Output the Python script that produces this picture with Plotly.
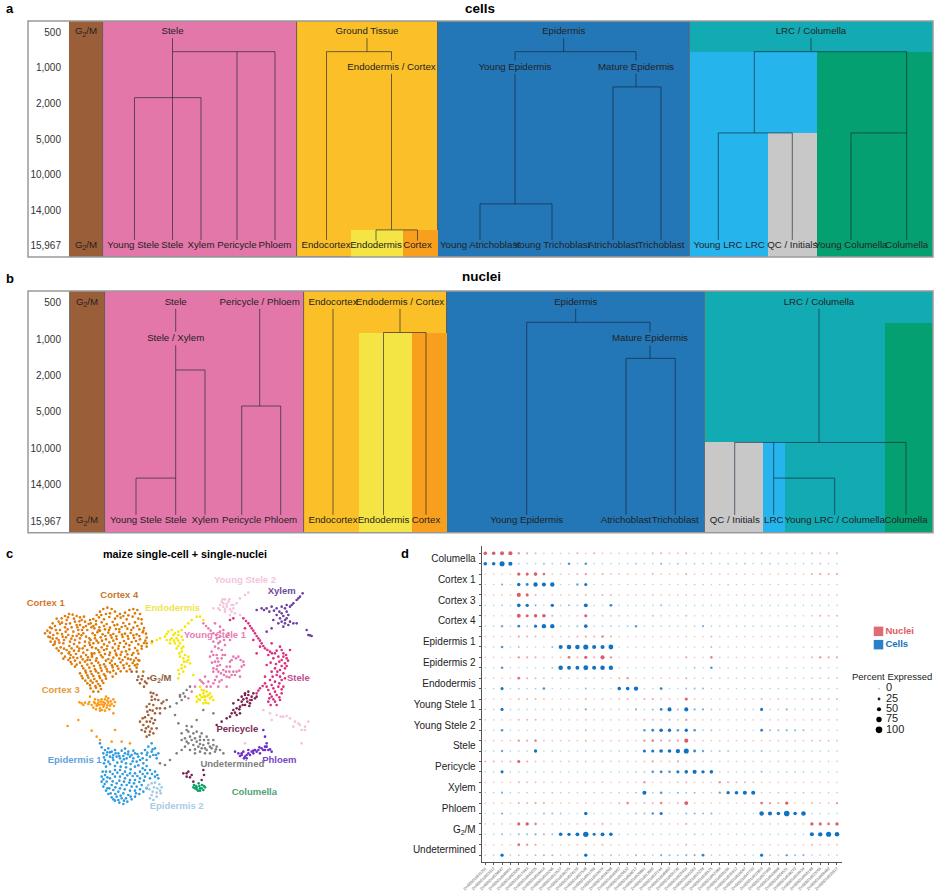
import plotly.graph_objects as go

FIG_W, FIG_H = 937, 893

# ---- panels a / b: resolution levels and clusters
resolution_labels = ["500", "1,000", "2,000", "5,000", "10,000", "14,000", "15,967"]
level_ids = [0, 1, 2, 3, 4, 5, 6]

BROWN, PINK, GOLD, BLUE, TEAL = "#9A5F38", "#E377A9", "#FBC027", "#2477B7", "#13ABB3"
YELLOW, ORANGE, SKY, GREEN, GREY = "#F5E544", "#F99F1E", "#25B5EC", "#05A071", "#C8C8C8"

# columns: left, right, top level, bottom level
cells_fill_x0 = [69, 103, 297, 438, 690, 690, 817, 768, 351, 403]
cells_fill_x1 = [103, 297, 438, 690, 933, 817, 933, 817, 403, 438]
cells_fill_y0 = [-0.31, -0.31, -0.31, -0.31, -0.31, 0.55, 0.55, 2.83, 5.55, 5.55]
cells_fill_y1 = [6.31, 6.31, 6.31, 6.31, 0.55, 6.31, 6.31, 6.31, 6.31, 6.31]
cells_fill_col = [BROWN, PINK, GOLD, BLUE, TEAL, SKY, GREEN, GREY, YELLOW, ORANGE]

nuclei_fill_x0 = [70, 105, 303.5, 447, 705, 885, 705, 763, 358.5, 411.5]
nuclei_fill_x1 = [105, 303.5, 447, 705, 933, 933, 763, 785, 411.5, 447]
nuclei_fill_y0 = [-0.32, -0.32, -0.32, -0.32, -0.32, 0.55, 3.84, 3.84, 0.82, 0.82]
nuclei_fill_y1 = [6.32] * 10
nuclei_fill_col = [BROWN, PINK, GOLD, BLUE, TEAL, GREEN, GREY, SKY, YELLOW, ORANGE]

# dendrogram branches: x0, level0, x1, level1
cells_branches = [
    (172.5, .17, 172.5, 5.83), (172.5, .55, 275, .55), (237, .55, 237, 5.83), (275, .55, 275, 5.83),
    (134.5, 1.84, 201, 1.84), (134.5, 1.84, 134.5, 5.83), (201, 1.84, 201, 5.83),
    (367, .17, 367, .55), (326.5, .55, 391.5, .55), (326.5, .55, 326.5, 5.83), (391.5, .55, 391.5, .8),
    (391.5, 1.17, 391.5, 5.55), (376, 5.55, 417.5, 5.55), (376, 5.55, 376, 5.85), (417.5, 5.55, 417.5, 5.85),
    (563.7, .17, 563.7, .55), (515, .55, 636, .55), (515, .55, 515, .8), (515, 1.17, 515, 4.82),
    (480, 4.82, 552, 4.82), (480, 4.82, 480, 5.83), (552, 4.82, 552, 5.83), (636, .55, 636, .8),
    (636, 1.17, 636, 1.54), (613, 1.54, 661, 1.54), (613, 1.54, 613, 5.83), (661, 1.54, 661, 5.83),
    (811, .17, 811, .55), (754.3, .55, 906.7, .55), (754.3, .55, 754.3, 2.83), (718.3, 2.83, 792.3, 2.83),
    (718.3, 2.83, 718.3, 5.83), (792.3, 2.83, 792.3, 5.83), (906.7, .55, 906.7, 5.83),
    (851, 2.83, 906.7, 2.83), (851, 2.83, 851, 5.83),
]
nuclei_branches = [
    (175.7, .17, 175.7, .8), (175.7, 1.17, 175.7, 5.83), (175.7, 1.85, 205, 1.85), (205, 1.85, 205, 5.83),
    (136, 4.82, 175.7, 4.82), (136, 4.82, 136, 5.83),
    (259.7, .17, 259.7, 2.84), (241.7, 2.84, 280.7, 2.84), (241.7, 2.84, 241.7, 5.83), (280.7, 2.84, 280.7, 5.83),
    (333, .17, 333, 5.83), (400, .17, 400, .82), (383.5, .82, 426, .82), (383.5, .82, 383.5, 5.83), (426, .82, 426, 5.83),
    (575.7, .17, 575.7, .54), (526.7, .54, 650, .54), (526.7, .54, 526.7, 5.83), (650, .54, 650, .8),
    (650, 1.17, 650, 1.53), (626, 1.53, 675.3, 1.53), (626, 1.53, 626, 5.83), (675.3, 1.53, 675.3, 5.83),
    (819, .17, 819, 3.84), (734.7, 3.84, 906, 3.84), (734.7, 3.84, 734.7, 5.83), (906, 3.84, 906, 5.83),
    (773.7, 3.84, 773.7, 5.83), (773.7, 4.82, 834.7, 4.82), (834.7, 4.82, 834.7, 5.83),
]

G2M = "G<sub>2</sub>/M"
cells_names = [G2M, "Stele", "Ground Tissue", "Endodermis / Cortex", "Epidermis", "Young Epidermis", "Mature Epidermis",
               "LRC / Columella", G2M, "Young Stele", "Stele", "Xylem", "Pericycle", "Phloem", "Endocortex", "Endodermis",
               "Cortex", "Young Atrichoblast", "Young Trichoblast", "Atrichoblast", "Trichoblast", "Young LRC", "LRC",
               "QC / Initials", "Young Columella", "Columella"]
cells_name_x = [86, 172.5, 367, 391.5, 563.7, 515, 636, 811, 86, 133.3, 172.3, 201, 237, 275, 326, 376, 417.5,
                480, 552, 613, 661, 718, 755, 792.3, 851, 906.7]
cells_name_lvl = [0, 0, 0, 1, 0, 1, 1, 0] + [6] * 18

nuclei_names = [G2M, "Stele", "Stele / Xylem", "Pericycle / Phloem", "Endocortex", "Endodermis / Cortex", "Epidermis",
                "Mature Epidermis", "LRC / Columella", G2M, "Young Stele", "Stele", "Xylem", "Pericycle", "Phloem",
                "Endocortex", "Endodermis", "Cortex", "Young Epidermis", "Atrichoblast", "Trichoblast", "QC / Initials",
                "LRC", "Young LRC / Columella", "Columella"]
nuclei_name_x = [87, 175.7, 175.7, 259.7, 333, 400, 575.7, 650, 819, 87, 136, 175.7, 205, 241.7, 280.7, 333, 383.5,
                 426, 526.7, 626, 675.3, 734.7, 773.7, 834.7, 906]
nuclei_name_lvl = [0, 0, 1, 0, 0, 0, 0, 1, 0] + [6] * 16

# ---- panel c: UMAP points
umap_names = ["Cortex 1", "Cortex 4", "Cortex 3", "Epidermis 1", "Epidermis 2", "G2/M", "Undetermined", "Endodermis",
              "Young Stele 1", "Young Stele 2", "Stele", "Pericycle", "Xylem", "Phloem", "Columella"]
umap_colors = ["#E07B10", "#DC7A06", "#FB9A16", "#2E9BE0", "#9CC9E6", "#A0623A", "#808080", "#F6E600",
               "#E978B2", "#F4C2DC", "#DB2E7E", "#7A2350", "#6E3FA0", "#6E2FC8", "#0BA36B"]

cortex1_pts = [(185,235),(195,228),(207,222),(218,224),(230,228),(240,232),(176,245),(165,258),(155,265),(150,278),
    (145,290),(152,305),(160,315),(170,325),(185,340),(195,350),(205,360),(215,372),(225,380),(180,270),(195,262),
    (210,250),(225,245),(240,255),(255,245),(188,290),(205,285),(220,275),(235,270),(250,280),(170,295),(190,310),
    (210,305),(225,300),(240,295),(255,305),(200,330),(215,325),(232,320),(248,325),(262,330),(212,345),(228,342),
    (243,350),(258,345),(225,362),(240,368),(255,365),(270,360),(160,285),(172,280),(200,240),(215,262),(230,255),
    (245,240),(180,252),(197,275),(165,305),(182,322),(222,312),(238,308),(250,262),(262,270),(268,295),(270,315),
    (275,340),(192,300),(208,318),(178,308),(220,352),(236,333),(250,338),(198,252),(236,282),(158,296),(266,252),
    (150,262),(142,272),(158,250),(170,236),(186,248),(204,232),(222,236),(238,244),(252,230),(168,270),(186,282),
    (203,268),(218,288),(232,262),(246,270),(258,258),(274,262),(176,300),(198,292),(214,296),(230,288),(244,286),
    (258,290),(150,292),(164,312),(176,332),(192,326),(206,340),(222,332),(238,326),(254,318),(268,308),(190,356),
    (210,354),(232,354),(248,358),(264,352),(212,366),(230,374),(246,378),(262,374),(276,350),(135,280),(208,336)]
cortex4_pts = [(290,225),(300,215),(310,207),(322,203),(335,207),(345,215),(360,222),(375,218),(388,210),(400,207),
    (412,210),(420,222),(280,237),(297,232),(312,238),(328,231),(345,236),(362,233),(380,238),(398,230),(415,236),
    (272,250),(288,253),(305,247),(320,252),(338,246),(352,254),(370,249),(388,252),(405,247),(425,251),(283,265),
    (298,262),(315,268),(330,263),(348,267),(365,261),(382,266),(400,263),(418,268),(432,264),(278,280),(292,277),
    (308,283),(325,278),(340,282),(358,276),(375,281),(392,279),(410,283),(428,277),(438,281),(285,295),(302,292),
    (318,298),(335,293),(350,297),(368,291),(385,296),(402,294),(420,298),(440,293),(280,310),(295,308),(312,313),
    (328,307),(345,312),(360,309),(378,311),(395,306),(415,313),(432,309),(288,325),(305,322),(320,327),(338,323),
    (355,326),(372,321),(388,328),(405,324),(425,326),(283,340),(298,337),(315,342),(330,338),(348,341),(365,336),
    (382,343),(400,339),(415,341),(290,355),(308,352),(325,357),(340,353),(358,356),(375,351),(392,358),(408,354),
    (275,370),(295,368),(312,373),(330,369),(345,372),(362,367),(380,371),(398,369),(412,373),(250,385),(268,383),
    (285,388),(302,384),(320,387),(338,382),(355,386),(372,384),(390,388),(410,383),(240,400),(258,398),(275,402),
    (295,399),(312,403),(330,397),(348,401),(248,415),(265,413),(283,417),(300,414),(318,416),(262,430),(278,428),
    (295,432),(310,429),(272,445),(288,443),(303,447),(456,305),(440,320),(415,360),(430,395),
    (270,240),(288,243),(304,225),(318,222),(330,220),(352,228),(370,228),(385,226),(405,220),(425,238),(280,258),
    (296,271),(312,258),(327,270),(343,256),(358,268),(376,258),(394,270),(412,258),(430,272),(285,286),(300,272),
    (316,288),(332,286),(349,289),(366,284),(383,288),(400,286),(418,288),(436,302),(272,300),(290,302),(306,302),
    (322,318),(340,302),(356,318),(372,303),(388,316),(408,303),(425,318),(440,310),(276,322),(295,330),(312,330),
    (328,345),(345,332),(362,344),(378,334),(396,345),(412,332),(276,345),(288,362),(303,346),(318,362),(335,362),
    (350,346),(368,360),(384,356),(402,362),(418,362),(262,360),(282,378),(300,376),(316,380),(336,376),(352,378),
    (370,376),(388,378),(405,376),(256,392),(272,394),(288,394),(305,392),(322,394),(340,392),(362,394),(380,394),
    (245,408),(262,406),(280,408),(298,408),(316,408),(338,410),(256,422),(272,422),(290,424),(306,422),(270,436),
    (286,438),(300,438),(280,455),(295,455)]
cortex3_pts = [(238,487),(245,490),(255,488),(265,492),(275,495),(285,490),(295,488),(305,493),(315,490),(325,488),
    (335,492),(345,486),(280,503),(290,498),(300,505),(310,500),(320,503),(330,497),(295,480),(305,478),(315,478),
    (325,475),(285,478),(270,470),(300,512),(315,512),(328,508),(340,478),(203,558),(235,540),(275,572),(290,590),
    (300,600),(345,570),(335,605),(365,605),(390,610),(340,520),(298,495),(310,486),(322,482),(288,508),
    (250,495),(268,486),(282,486),(292,493),(302,485),(312,495),(322,496),(332,484),(342,498),(306,510),(318,470)]
epidermis1_pts = [(305,622),(315,630),(325,625),(335,635),(345,630),(355,640),(365,632),(375,640),(385,635),(395,645),
    (405,640),(415,650),(425,640),(435,630),(445,620),(455,610),(465,625),(475,640),(470,655),(460,645),(450,650),
    (440,660),(430,670),(420,660),(410,665),(400,655),(390,650),(380,655),(370,648),(360,655),(350,650),(340,645),
    (330,650),(320,645),(310,640),(315,660),(325,665),(340,660),(352,668),(365,665),(378,670),(392,672),(405,680),
    (300,610),(318,680),(308,695),(305,710),(305,725),(310,740),(318,752),(325,762),(335,772),(345,782),(358,788),
    (370,792),(382,785),(395,778),(405,770),(418,762),(430,755),(440,745),(330,695),(345,690),(360,690),(375,695),
    (390,700),(405,700),(420,695),(435,690),(450,690),(465,695),(475,715),(465,710),(450,715),(435,710),(420,715),
    (405,720),(390,720),(375,715),(360,710),(345,710),(330,715),(320,725),(335,735),(350,730),(365,735),(380,735),
    (395,740),(410,740),(425,735),(340,750),(355,755),(370,760),(385,765),(365,775),(350,770),(315,705),(322,745),
    (330,637),(375,626),(400,632),(440,645),(455,635),
    (312,652),(322,637),(338,653),(347,640),(358,648),(372,658),(384,643),(398,664),(412,642),(428,655),(442,638),
    (458,628),(468,645),(440,678),(428,685),(415,676),(392,688),(378,682),(362,680),(345,678),(330,672),(312,670),
    (318,695),(322,712),(338,702),(352,698),(368,702),(382,706),(398,708),(412,708),(428,702),(442,700),(456,702),
    (472,705),(310,718),(338,724),(358,722),(372,725),(388,728),(402,730),(418,726),(432,722),(314,732),(328,745),
    (346,742),(360,745),(374,748),(390,752),(405,752),(420,748),(332,760),(346,762),(362,767),(378,775),(392,770),
    (408,760),(340,778),(355,780),(372,782)]
epidermis2_pts = [(445,735),(455,730),(465,728),(478,733),(485,742),(480,752),(470,758),(458,755),(448,748),(440,742),
    (462,742),(472,745),(455,765),(470,770),(450,775),(482,760),(460,780)]
g2m_pts = [(415,410),(425,418),(435,425),(420,430),(432,440),(445,415),(460,460),(470,465),(455,470),(440,500),(450,510),
    (460,495),(470,505),(445,525),(455,535),(440,545),(430,555),(445,560),(460,550),(470,565),(450,575),(435,575),
    (425,570),(460,580),(440,590),(420,545),(465,520),(455,480),(475,480),(485,490),(495,505),(500,480),(480,520),
    (395,395),(410,395),(428,408),(440,430),(412,420),(452,458),(465,478),(448,492),(458,512),(442,515),(435,532),
    (450,545),(465,540),(438,565),(455,566),(448,585),(428,535),(480,505)]
undetermined_pts = [(545,580),(560,570),(575,560),(590,575),(605,580),(620,590),(600,600),(585,595),(570,590),(555,595),
    (565,610),(580,615),(595,620),(610,615),(625,610),(640,600),(650,620),(660,630),(645,635),(630,640),(615,640),
    (600,635),(585,640),(570,630),(555,620),(670,640),(540,465),(550,460),(560,450),(545,480),(530,490),(570,440),
    (490,485),(510,500),(525,525),(535,550),(510,660),(495,675),(530,640),(545,630),(480,670),(640,520),(610,510),
    (590,540),(635,625),(620,630),(605,625),(565,575),(580,580),(600,590),(612,600),(590,605),(575,600),(560,605),
    (600,612),(615,625),(630,620),(640,615),(648,628),(625,600),(585,628),(560,558),(545,600),(555,470),(540,470)]
endodermis_pts = [(495,290),(505,275),(515,270),(525,280),(535,275),(545,270),(555,260),(565,250),(575,240),(590,230),
    (600,230),(610,240),(500,300),(515,295),(530,295),(545,290),(525,310),(540,310),(550,320),(530,325),(545,335),
    (555,345),(565,350),(550,355),(540,350),(560,365),(570,370),(555,380),(545,375),(535,390),(550,395),(535,415),
    (580,405),(600,440),(590,470),(600,465),(610,460),(620,455),(630,460),(600,480),(615,480),(630,475),(610,490),
    (590,485),(625,490),(640,480),(510,310),(470,300),(455,310),(480,295),(612,470),(622,468),(500,282),(520,285),
    (535,285),(510,300),(522,302),(535,302),(548,300),(535,318),(545,325),(538,340),(552,365),(565,360),(545,385),
    (538,402),(605,450),(615,470),(625,465),(605,472),(595,478),(618,488),(635,470),(612,452)]
young_stele1_pts = [(610,250),(625,265),(640,280),(650,295),(660,305),(645,320),(635,335),(650,345),(665,330),(675,315),
    (630,350),(645,365),(660,375),(640,385),(655,395),(670,390),(680,380),(690,365),(700,350),(715,350),(730,365),
    (725,380),(710,395),(695,405),(680,410),(665,420),(650,410),(640,430),(625,425),(615,410),(600,420),(720,410),
    (690,380),(700,395),(660,290),(670,270),(680,290),(690,300),(660,260),(645,250),(675,345),(655,440),(680,440),
    (610,430),(585,440),(565,475),(575,455),(655,325),(640,305),(665,355),(652,378),(618,258),(632,272),(648,285),
    (655,310),(640,345),(652,355),(668,345),(636,368),(650,388),(663,400),(678,395),(688,395),(695,360),(708,355),
    (722,360),(732,375),(718,392),(705,405),(688,412),(672,405),(658,425),(645,420),(632,440),(660,275),(672,300),
    (685,280),(640,395),(655,365),(620,440),(605,425)]
young_stele2_pts = [(665,185),(675,178),(685,185),(695,195),(660,195),(670,200),(680,200),(690,208),(700,205),(710,190),
    (720,175),(735,165),(745,158),(660,210),(675,215),(690,225),(705,220),(720,225),(810,520),(830,525),(850,530),
    (870,535),(885,545),(900,555),(915,560),(925,545),(905,570),(880,560),(815,540),(790,510),(905,610),(735,610),
    (640,205),(670,190),(680,192),(668,178),(688,178),(675,208),(695,215),(655,205),(700,195),(842,530),(895,550),
    (915,570),(860,528)]
stele_pts = [(730,235),(745,250),(755,265),(765,280),(775,295),(785,310),(795,325),(810,335),(825,340),(840,320),(850,340),
    (860,355),(855,370),(845,360),(835,350),(820,355),(805,345),(855,385),(840,390),(825,385),(850,400),(830,405),
    (815,395),(845,420),(825,425),(810,420),(795,430),(780,445),(770,460),(835,440),(820,445),(805,450),(850,440),
    (845,460),(830,465),(815,470),(805,485),(825,485),(840,480),(795,410),(800,375),(780,320),(770,340),(760,300),
    (870,330),(815,310),(750,480),(735,265),(700,235),(690,240),(738,243),(750,258),(760,272),(770,288),(780,302),
    (790,318),(802,330),(816,340),(830,332),(845,330),(858,345),(864,362),(850,350),(838,365),(828,372),(812,368),
    (860,378),(845,378),(832,395),(818,410),(840,410),(855,415),(838,430),(815,435),(800,440),(788,438),(775,452),
    (845,448),(825,455),(810,462),(838,472),(820,478),(808,475),(830,495),(812,495)]
pericycle_pts = [(700,490),(715,480),(725,470),(735,460),(745,455),(755,470),(765,475),(750,490),(735,495),(720,500),
    (740,475),(760,460),(725,485),(710,505),(695,520),(710,525),(690,530),(680,535),(665,545),(650,555),(720,520),
    (700,510),(550,700),(560,710),(575,705),(565,695),(610,690),(612,705),(605,720),(580,725),(730,478),(745,465),
    (755,480),(742,485),(728,495),(718,508),(705,518),(735,465),(770,470),(748,498),(560,700),(570,712)]
xylem_pts = [(785,205),(800,205),(815,200),(830,205),(845,200),(860,195),(860,215),(845,220),(830,225),(860,235),(870,245),
    (880,250),(855,250),(835,250),(820,240),(850,260),(890,180),(900,170),(908,160),(880,190),(870,200),(800,275),
    (815,265),(925,285),(935,288),(920,270),(770,210),(890,250),(855,205),(850,228),(840,235),(865,225),(855,240),
    (838,215),(822,212),(808,215),(792,210),(845,245),(865,255),(875,195),(895,175),(930,286)]
phloem_pts = [(705,635),(715,640),(725,645),(735,650),(745,640),(755,635),(765,630),(775,630),(785,625),(795,620),(805,630),
    (815,635),(730,635),(740,655),(760,640),(780,640),(800,610),(795,590),(790,570),(745,630),(720,648),(732,655),
    (750,645),(770,635),(790,630),(810,628),(725,640),(740,645),(760,632),(778,622),(795,630),(800,620)]
columella_pts = [(582,735),(590,742),(598,738),(606,735),(615,742),(610,750),(600,752),(590,748),(585,745),(596,730),(605,745),
    (588,738),(600,745),(594,752),(612,738),(580,742)]

umap_points = [cortex1_pts, cortex4_pts, cortex3_pts, epidermis1_pts, epidermis2_pts, g2m_pts, undetermined_pts, endodermis_pts,
               young_stele1_pts, young_stele2_pts, stele_pts, pericycle_pts, xylem_pts, phloem_pts, columella_pts]

umap_label_text = ["Cortex 1", "Cortex 4", "Endodermis", "Young Stele 2", "Xylem", "Young Stele 1", "Stele", G2M, "Cortex 3",
                   "Pericycle", "Epidermis 1", "Phloem", "Undetermined", "Columella", "Epidermis 2"]
umap_label_x = [137, 358, 518, 735, 845, 645, 895, 482, 182, 712, 224, 838, 697, 763, 530]
umap_label_y = [192, 167, 205, 123, 156, 288, 416, 417, 453, 570, 662, 663, 675, 757, 800]
umap_label_col = ["#D6762E", "#C9772B", "#F0E44A", "#F4C4DD", "#6D4A9E", "#E87DB4", "#C24B8E", "#8B5E3C", "#E59A37",
                  "#7A2A55", "#5FA3DE", "#7A45C4", "#808080", "#4FA37A", "#A8CCE6"]

# ---- panel d: percent expressed per marker gene
dot_types = ["Columella", "Cortex 1", "Cortex 3", "Cortex 4", "Epidermis 1", "Epidermis 2", "Endodermis", "Young Stele 1",
             "Young Stele 2", "Stele", "Pericycle", "Xylem", "Phloem", G2M, "Undetermined"]
gene_ids = ["Zm00001d031201", "Zm00001d003312", "Zm00001d028647", "Zm00001d046951", "Zm00001d002065", "Zm00001d017443",
            "Zm00001d043025", "Zm00001d018414", "Zm00001d033246", "Zm00001d012527", "Zm00001d039275", "Zm00001d024120",
            "Zm00001d007538", "Zm00001d051766", "Zm00001d010974", "Zm00001d034298", "Zm00001d045507", "Zm00001d020632",
            "Zm00001d008217", "Zm00001d026891", "Zm00001d013590", "Zm00001d037144", "Zm00001d049802", "Zm00001d005736",
            "Zm00001d022419", "Zm00001d041063", "Zm00001d015228", "Zm00001d030575", "Zm00001d052384", "Zm00001d006169",
            "Zm00001d035912", "Zm00001d019047", "Zm00001d047720", "Zm00001d011853", "Zm00001d027306", "Zm00001d043698",
            "Zm00001d004521", "Zm00001d038270", "Zm00001d016934", "Zm00001d050148", "Zm00001d023765", "Zm00001d009482",
            "Zm00001d032617"]

# nuclei and cells rows alternate, top to bottom
pct_expressed = [
    [40,40,45,50,15,12,8,3,3,2, 3,10,3,10,3,3,3,3,3,3, 8,10,5,5,8,3,3,5,3,3, 3,3,3,8,3,3,3,3,3,8,5,5,8],
    [40,40,70,50,3,1,1,8,2,1, 20,1,20,1,1,1,1,1,5,1, 1,10,1,5,1,2,2,1,1,3, 1,4,1,1,4,1,1,1,1,1,4,1,1],
    [2,2,2,2,35,30,40,25,3,3, 3,8,15,3,10,5,5,5,3,3, 8,3,3,3,10,3,3,3,3,3, 3,3,3,3,3,3,3,3,3,10,12,10,12],
    [1,1,12,1,35,25,55,50,55,1, 1,15,30,1,1,1,1,1,1,1, 1,1,1,1,2,2,2,1,1,3, 1,1,1,1,1,1,1,1,1,1,1,1,1],
    [2,2,2,2,50,30,8,2,2,2, 2,5,8,2,8,8,2,2,2,2, 5,3,2,2,4,2,2,2,2,2, 2,2,2,2,2,2,2,2,2,4,4,4,4],
    [1,1,5,1,40,35,10,1,35,3, 8,5,45,1,1,25,1,1,1,1, 1,8,1,1,1,1,1,1,1,1, 1,1,1,1,1,1,1,1,1,1,1,1,1],
    [2,2,2,2,45,30,35,40,10,2, 2,5,30,2,5,4,4,3,2,2, 8,3,2,2,8,2,2,2,2,2, 2,2,2,2,2,2,2,2,2,4,10,8,8],
    [1,1,15,1,25,3,30,55,55,1, 1,8,40,1,1,3,1,5,18,1, 1,1,1,1,1,1,12,1,1,1, 1,1,1,1,1,1,1,1,1,1,1,1,1],
    [2,2,2,2,12,10,8,4,2,2, 5,8,12,8,20,10,2,2,2,2, 2,2,2,2,4,2,2,8,2,2, 2,2,2,2,2,2,2,2,2,5,5,5,5],
    [1,1,20,1,5,1,1,1,8,50, 60,60,70,50,50,65,1,1,1,1, 1,1,1,1,1,1,1,5,1,1, 1,1,1,1,1,1,1,1,1,1,1,1,1],
    [2,2,2,2,15,12,10,5,2,5, 25,8,30,10,50,15,2,2,2,2, 2,2,2,2,12,2,2,20,2,2, 2,2,2,2,2,2,2,2,2,8,15,12,12],
    [1,1,20,1,1,1,1,1,5,60, 45,45,65,50,60,55,1,1,1,1, 1,1,1,1,1,5,1,20,1,1, 1,1,1,1,1,1,3,1,1,1,3,1,1],
    [2,2,2,2,25,10,8,5,2,2, 2,2,5,2,2,2,8,15,2,2, 2,2,2,2,10,2,2,2,2,2, 2,2,2,2,2,2,2,2,2,5,5,5,5],
    [1,1,30,1,5,1,5,20,1,1, 1,1,8,1,1,1,40,40,55,1, 1,25,1,1,8,8,8,1,1,1, 1,1,1,1,1,1,1,1,1,1,1,1,1],
    [2,2,2,2,8,8,8,5,2,2, 2,2,8,2,5,2,5,8,2,10, 12,5,5,2,30,4,2,2,2,2, 2,2,2,8,2,5,2,2,2,8,5,5,8],
    [1,1,30,1,1,1,1,1,1,1, 1,1,12,1,1,1,1,1,10,1, 8,25,50,8,50,12,12,5,1,1, 1,1,1,30,1,1,10,1,1,1,1,1,1],
    [2,2,2,2,8,8,8,5,2,2, 2,2,5,2,2,2,2,2,2,8, 8,5,8,5,15,2,2,2,2,2, 2,2,2,2,2,2,2,2,2,5,4,4,4],
    [1,1,20,1,1,1,1,1,1,1, 1,1,5,1,1,1,1,1,1,18, 25,40,35,20,35,20,3,5,1,1, 1,1,1,25,8,8,12,10,8,1,1,1,1],
    [2,2,2,2,15,10,20,5,2,2, 2,2,8,2,2,2,2,2,2,15, 20,12,12,12,50,2,2,2,2,2, 2,2,2,2,2,2,2,2,2,6,6,6,6],
    [1,1,15,1,1,1,35,1,3,1, 1,1,3,1,1,1,1,1,1,30, 30,40,40,55,70,25,15,3,5,5, 1,1,1,8,1,1,1,1,1,1,1,1,1],
    [8,8,5,8,30,10,5,3,2,2, 3,2,5,2,5,3,2,2,2,5, 12,3,5,12,3,2,2,2,2,2, 2,2,2,2,2,2,2,2,2,2,2,2,2],
    [1,1,30,1,1,1,1,1,1,1, 1,1,1,1,1,1,1,1,5,5, 20,25,20,30,40,50,35,40,1,1, 1,1,1,8,1,1,3,3,3,1,1,1,1],
    [2,2,2,2,8,5,5,3,2,2, 2,2,5,2,5,2,2,2,2,15, 2,3,2,5,8,2,2,2,15,10, 8,8,5,2,2,2,2,2,2,2,2,2,2],
    [1,1,12,1,1,1,1,1,3,1, 1,1,1,1,1,1,1,1,5,50, 3,20,1,10,5,8,1,1,15,35, 40,50,50,1,1,3,1,1,3,1,1,1,1],
    [2,2,2,2,10,8,12,10,2,2, 2,2,5,2,2,2,8,20,2,8, 8,20,2,8,45,2,2,2,2,2, 2,2,2,25,15,10,35,2,2,8,5,5,15],
    [1,1,12,1,1,1,1,8,8,5, 1,1,35,1,1,1,1,1,5,8, 20,30,1,1,10,10,8,10,1,1, 1,1,1,60,50,40,80,40,60,1,1,1,1],
    [2,2,2,2,30,35,20,3,2,2, 2,5,5,2,10,2,2,2,2,2, 2,2,2,2,10,2,2,2,2,2, 2,2,2,2,2,2,2,2,2,35,30,25,35],
    [1,1,8,1,8,8,12,8,8,40, 35,45,75,30,45,40,1,1,1,1, 1,1,1,1,1,5,1,1,1,1, 1,1,1,1,1,1,1,1,1,50,55,70,60],
    [2,2,2,2,25,15,12,2,2,2, 2,3,5,2,8,2,2,2,2,2, 2,2,2,2,8,2,2,2,2,2, 2,2,2,2,2,2,2,2,2,8,3,3,5],
    [1,1,35,1,3,1,5,8,8,1, 1,1,35,1,1,5,1,1,8,3, 1,12,8,5,10,10,25,1,1,1, 1,1,1,30,3,1,15,8,10,1,1,1,1],
]

size_legend_pct = [0, 25, 50, 75, 100]
NUCLEI_RED, CELLS_BLUE = "#DC5C64", "#1272C2"


def dom_x(a, b):
    return [a / FIG_W, b / FIG_W]


def dom_y(top, bottom):
    return [1 - bottom / FIG_H, 1 - top / FIG_H]


def dot_size(pct):
    return 1.6 + pct * 0.05


fig = go.Figure()


def add_tree_panel(axis_id, x0s, x1s, y0s, y1s, cols, branches, names, name_x, name_lvl):
    xa, ya = "x" + axis_id, "y" + axis_id
    # the big sections get a thin dark edge
    edges = [0.8 if c in (BROWN, PINK, GOLD, BLUE) else 0 for c in cols]
    fig.add_trace(go.Bar(x=[(a + b) / 2 for a, b in zip(x0s, x1s)], y=[b - a for a, b in zip(y0s, y1s)],
                         base=y0s, width=[b - a for a, b in zip(x0s, x1s)],
                         marker=dict(color=cols, line=dict(color="#555555", width=edges)),
                         xaxis=xa, yaxis=ya, hoverinfo="skip", showlegend=False))
    line_x, line_y = [], []
    for b in branches:
        line_x += [b[0], b[2], None]
        line_y += [b[1], b[3], None]
    fig.add_trace(go.Scatter(x=line_x, y=line_y, mode="lines", line=dict(color="rgba(20,30,50,0.62)", width=1),
                             xaxis=xa, yaxis=ya, hoverinfo="skip", showlegend=False))
    fig.add_trace(go.Scatter(x=name_x, y=name_lvl, text=names, mode="text", textposition="middle center",
                             textfont=dict(family="Liberation Sans", size=9.7, color="#222222"),
                             xaxis=xa, yaxis=ya, hoverinfo="skip", showlegend=False, cliponaxis=False))


add_tree_panel("", cells_fill_x0, cells_fill_x1, cells_fill_y0, cells_fill_y1, cells_fill_col,
               cells_branches, cells_names, cells_name_x, cells_name_lvl)
add_tree_panel("2", nuclei_fill_x0, nuclei_fill_x1, nuclei_fill_y0, nuclei_fill_y1, nuclei_fill_col,
               nuclei_branches, nuclei_names, nuclei_name_x, nuclei_name_lvl)

# panel c
for name, col, pts in zip(umap_names, umap_colors, umap_points):
    fig.add_trace(go.Scatter(x=[p[0] for p in pts], y=[p[1] for p in pts], mode="markers", name=name,
                             marker=dict(color=col, size=2.6, line=dict(width=0)),
                             xaxis="x3", yaxis="y3", showlegend=False))
fig.add_trace(go.Scatter(x=umap_label_x, y=umap_label_y, text=umap_label_text, mode="text",
                         texttemplate="<b>%{text}</b>",
                         textfont=dict(family="Liberation Sans", size=9.5, color=umap_label_col),
                         xaxis="x3", yaxis="y3", hoverinfo="skip", showlegend=False, cliponaxis=False))

# panel d
for r, row in enumerate(pct_expressed):
    col = NUCLEI_RED if r % 2 == 0 else CELLS_BLUE
    fig.add_trace(go.Scatter(x=list(range(len(row))), y=[r] * len(row), mode="markers",
                             marker=dict(color=col, size=[dot_size(v) for v in row],
                                         opacity=[min(1, 0.3 + v / 45) for v in row], line=dict(width=0)),
                             xaxis="x4", yaxis="y4", showlegend=False))

# legends of panel d
fig.add_trace(go.Scatter(x=[0, 0], y=["Nuclei", "Cells"], mode="markers+text", text=["<b>Nuclei</b>", "<b>Cells</b>"],
                         textposition="middle right",
                         textfont=dict(family="Liberation Sans", size=9.5, color=[NUCLEI_RED, CELLS_BLUE]),
                         marker=dict(symbol="square", size=9.5, color=[NUCLEI_RED, CELLS_BLUE], opacity=0.9),
                         xaxis="x5", yaxis="y5", hoverinfo="skip", showlegend=False, cliponaxis=False))
fig.add_trace(go.Scatter(x=[0] * 5, y=size_legend_pct, mode="markers",
                         marker=dict(color="black", size=[dot_size(v) for v in size_legend_pct],
                                     opacity=[min(1, 0.3 + v / 45) for v in size_legend_pct], line=dict(width=0)),
                         xaxis="x6", yaxis="y6", hoverinfo="skip", showlegend=False, cliponaxis=False))
fig.add_trace(go.Scatter(x=[7] * 5, y=size_legend_pct, mode="text", text=[str(v) for v in size_legend_pct],
                         textposition="middle right",
                         textfont=dict(family="Liberation Sans", size=11, color="#222222"),
                         xaxis="x6", yaxis="y6", hoverinfo="skip", showlegend=False, cliponaxis=False))

hidden = dict(visible=False, fixedrange=True)
tree_y = dict(tickmode="array", tickvals=level_ids, ticktext=resolution_labels, showgrid=False, zeroline=False,
              ticks="outside", ticklen=5, tickcolor="white", showline=False,
              tickfont=dict(family="Liberation Sans", size=10, color="#333333"))
tree_x = dict(range=[69, 933], visible=False, domain=dom_x(69, 933))
row_pos = list(range(len(pct_expressed)))
type_pos = [r + 0.5 for r in row_pos[::2]]

fig.update_layout(
    template="none",
    width=FIG_W, height=FIG_H, margin=dict(l=0, r=0, t=0, b=0), autosize=False,
    paper_bgcolor="white", plot_bgcolor="white", barmode="overlay", bargap=0, showlegend=False,
    xaxis=tree_x,
    yaxis=dict(tree_y, range=[6.31, -0.31], domain=dom_y(21, 257)),
    xaxis2=dict(tree_x, anchor="y2"),
    yaxis2=dict(tree_y, range=[6.32, -0.32], domain=dom_y(291, 532.7), anchor="x2"),
    xaxis3=dict(hidden, range=[0, 1020], domain=dom_x(0, 340), anchor="y3"),
    yaxis3=dict(hidden, range=[840, 0], domain=dom_y(540, 820), anchor="x3"),
    xaxis4=dict(range=[-0.43, 42.6], domain=dom_x(481.7, 842), anchor="y4", tickmode="array",
                tickvals=list(range(len(gene_ids))), ticktext=gene_ids, tickangle=-45, ticks="outside", ticklen=2,
                tickcolor="#555555", showline=True, linecolor="#555555", linewidth=1, showgrid=False, zeroline=False,
                tickfont=dict(family="Liberation Sans", size=3.8, color="#555555")),
    yaxis4=dict(range=[29.63, -0.7], domain=dom_y(546, 861.7), anchor="x4", tickmode="array",
                tickvals=type_pos, ticktext=dot_types, ticks="outside", ticklen=3, tickcolor="rgba(0,0,0,0)",
                showline=True, linecolor="#555555", linewidth=1, showgrid=False, zeroline=False,
                minor=dict(tickmode="array", tickvals=row_pos, ticks="outside", ticklen=2, tickcolor="#555555"),
                tickfont=dict(family="Liberation Sans", size=10, color="#222222")),
    xaxis5=dict(hidden, range=[0, 60], domain=dom_x(878.5, 937), anchor="y5"),
    yaxis5=dict(hidden, type="category", categoryorder="array", categoryarray=["Cells", "Nuclei"],
                domain=dom_y(624, 652), anchor="x5"),
    xaxis6=dict(hidden, range=[0, 58], domain=dom_x(879, 937), anchor="y6"),
    yaxis6=dict(hidden, range=[106, -6], domain=dom_y(688.5 - 2.3, 730 + 2.3), anchor="x6"),
    shapes=[
        dict(type="rect", xref="paper", yref="paper", x0=28 / FIG_W, x1=933 / FIG_W, y0=1 - 257 / FIG_H, y1=1 - 21 / FIG_H,
             line=dict(color="#9a9a9a", width=1.5), layer="above"),
        dict(type="rect", xref="paper", yref="paper", x0=28 / FIG_W, x1=933 / FIG_W, y0=1 - 532.7 / FIG_H, y1=1 - 291 / FIG_H,
             line=dict(color="#9a9a9a", width=1.5), layer="above"),
    ],
)


def paper_text(text, px, py, size, bold=True, color="black"):
    fig.add_annotation(text=f"<b>{text}</b>" if bold else text, x=px / FIG_W, y=1 - py / FIG_H, xref="paper", yref="paper",
                       showarrow=False, xanchor="center", yanchor="middle",
                       font=dict(family="Liberation Sans", size=size, color=color))


paper_text("a", 10, 9, 13)
paper_text("cells", 480.5, 8, 13.5)
paper_text("b", 10, 278, 13)
paper_text("nuclei", 481, 277, 13.5)
paper_text("c", 9, 553, 13)
paper_text("maize single-cell + single-nuclei", 185, 554, 10.8)
paper_text("d", 405, 553, 13)
paper_text("Percent Expressed", 892, 676, 9.5, bold=False, color="#222222")

fig.write_html("out.html", config=dict(displayModeBar=False),
               post_script="document.body.style.margin='0';")
